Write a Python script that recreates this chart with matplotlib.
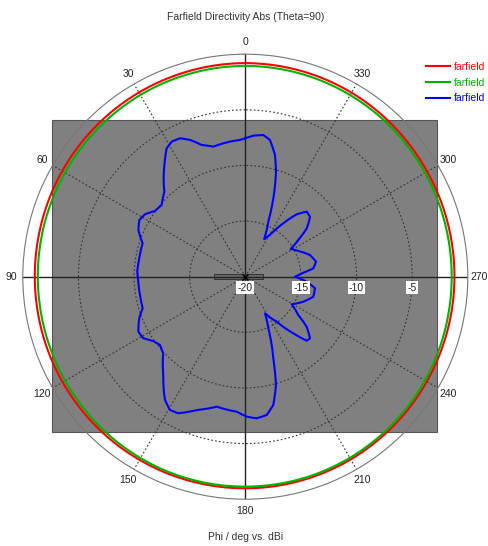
import numpy as np
import matplotlib
matplotlib.use("Agg")
import matplotlib.pyplot as plt
from matplotlib.patches import Rectangle
from matplotlib.lines import Line2D
from matplotlib.transforms import ScaledTranslation

plt.rcParams['font.family'] = ['Liberation Sans', 'DejaVu Sans']

title = "Farfield Directivity Abs (Theta=90)"
xlabel = "Phi / deg vs. dBi"
series_labels = ["farfield", "farfield", "farfield"]
series_colors = ["#ff0000", "#00b400", "#0000ff"]

theta_ticks = list(range(0, 360, 30))
theta_labels = [str(t) for t in theta_ticks]
r_ticks = [-20, -15, -10, -5]
r_min, r_max = -20, 0

# red / green curves: phi every 10 deg
phi_rg = list(range(0, 360, 10))
red_db = [-0.80, -0.82, -0.85, -0.88, -0.92, -0.96, -1.00, -1.04, -1.07, -1.08,
          -1.08, -1.06, -1.04, -1.02, -1.00, -0.99, -0.98, -0.98, -0.98, -0.99,
          -1.01, -1.04, -1.08, -1.12, -1.16, -1.19, -1.20, -1.20, -1.19, -1.16,
          -1.12, -1.05, -0.97, -0.90, -0.85, -0.82]
green_db = [-1.05, -1.07, -1.10, -1.14, -1.19, -1.24, -1.28, -1.32, -1.34, -1.35,
            -1.35, -1.33, -1.30, -1.26, -1.21, -1.17, -1.14, -1.13, -1.13, -1.14,
            -1.16, -1.20, -1.25, -1.30, -1.35, -1.40, -1.44, -1.45, -1.44, -1.40,
            -1.34, -1.27, -1.20, -1.15, -1.10, -1.07]

# blue curve
phi_blue = [0.0, 2.2, 6.5, 13.8, 18.3, 22.0, 25.3, 28.6, 31.5, 35.9, 43.6, 49.4, 54.0,
            58.1, 61.9, 66.4, 72.0, 80.2, 87.3, 91.8, 99.9, 107.1, 111.4, 117.2, 121.1,
            124.9, 128.7, 133.0, 140.2, 146.9, 150.5, 153.9, 160.0, 167.6, 176.4, 180.6,
            184.6, 188.8, 192.3, 195.8, 198.9, 204.0, 208.3, 214.9, 220.3, 223.8, 226.4,
            230.8, 234.1, 239.3, 246.7, 253.6, 260.6, 265.3, 270.0, 273.4, 277.0, 282.0,
            288.5, 295.9, 301.4, 304.7, 308.2, 312.8, 316.6, 320.5, 324.6, 329.4, 333.3,
            337.3, 340.3, 343.7, 346.3, 349.8, 352.8, 356.8, 360.0]
blue_db = [-7.56, -7.70, -7.78, -7.96, -7.53, -6.74, -6.24, -6.18, -6.47, -7.60, -9.45,
           -10.10, -9.96, -9.38, -9.20, -9.51, -10.30, -10.33, -10.28, -10.37, -10.39,
           -10.35, -9.76, -9.19, -9.29, -9.91, -10.18, -9.91, -8.49, -6.78, -6.24, -6.33,
           -7.25, -8.04, -7.84, -7.42, -7.23, -7.42, -8.20, -9.88, -12.24, -14.92, -16.26,
           -15.07, -13.33, -12.03, -11.97, -12.88, -14.12, -15.15, -14.32, -13.63, -13.65,
           -14.46, -15.53, -14.92, -13.84, -13.50, -13.87, -14.71, -15.22, -14.20, -12.97,
           -12.07, -11.96, -12.73, -14.11, -15.64, -16.21, -14.64, -12.52, -10.17, -8.74,
           -7.51, -7.16, -7.31, -7.56]

W, H = 488, 546
fig = plt.figure(figsize=(W / 100, H / 100), dpi=100)
fig.patch.set_facecolor('white')

cx, cy, R = 245.3, 276.7, 222.5
ax = fig.add_axes([(cx - R) / W, (H - cy - R) / H, 2 * R / W, 2 * R / H], projection='polar')
ax.set_facecolor('none')
ax.set_theta_zero_location('N')
ax.set_theta_direction(1)
ax.set_ylim(r_min, r_max)

# background structure picture (gray rectangle)
rect = Rectangle((52 / W, (H - 432) / H), (437 - 52) / W, (432 - 120) / H,
                 transform=fig.transFigure, facecolor='#808080', edgecolor='#555555',
                 linewidth=0.8, zorder=-1)
fig.add_artist(rect)
# small dipole model at center
dip = Rectangle((214 / W, (H - 278.5) / H), (263 - 214) / W, 4.5 / H,
                transform=fig.transFigure, facecolor='#6a6a6a', edgecolor='#333333',
                linewidth=0.7, zorder=-0.5)
fig.add_artist(dip)

ax.set_thetagrids(theta_ticks, theta_labels)
ax.tick_params(axis='x', pad=-2, labelsize=7.5, colors='#222222')
ax.set_rgrids([-15, -10, -5], labels=[''] * 3)
ax.tick_params(axis='y', length=0)
for gl, t in zip(ax.xaxis.get_gridlines(), theta_ticks):
    if t % 90 == 0:
        gl.set_linestyle('-')
        gl.set_color('#222222')
        gl.set_linewidth(1.0)
    else:
        gl.set_linestyle((0, (1.5, 2)))
        gl.set_color('#333333')
        gl.set_linewidth(0.8)
for gl in ax.yaxis.get_gridlines():
    gl.set_linestyle((0, (1.5, 2)))
    gl.set_color('#333333')
    gl.set_linewidth(0.8)
ax.spines['polar'].set_color('#777777')
ax.spines['polar'].set_linewidth(0.8)

def closed(p, v):
    return np.deg2rad(list(p) + [p[0] + 360]), list(v) + [v[0]]

lines = []
t, r = closed(phi_rg, red_db)
lines += ax.plot(t, r, color=series_colors[0], lw=1.5, label=series_labels[0])
t, r = closed(phi_rg, green_db)
lines += ax.plot(t, r, color=series_colors[1], lw=1.5, label=series_labels[1])
lines += ax.plot(np.deg2rad(phi_blue), blue_db, color=series_colors[2], lw=1.5,
                 label=series_labels[2])
for ln in lines:
    ln.get_path()._interpolation_steps = 12

# center marker
ax.plot([0], [r_min], marker='x', color='black', ms=4, mew=1)

# radial labels along 270 deg
off = ScaledTranslation(0, -11 / 100, fig.dpi_scale_trans)
for rv in r_ticks:
    ax.text(np.deg2rad(270), rv, str(rv), transform=ax.transData + off,
            ha='center', va='center', fontsize=7.5, color='#222222',
            bbox=dict(facecolor='white', edgecolor='none', pad=1.0))

fig.text(cx / W, 1 - 17 / H, title, ha='center', va='center', fontsize=7.5, color='#333333')
fig.text(cx / W, 1 - 536.7 / H, xlabel, ha='center', va='center', fontsize=7.5, color='#333333')

handles = [Line2D([], [], color=c, lw=1.5) for c in series_colors]
leg = fig.legend(handles, series_labels, loc='upper left',
                 bbox_to_anchor=(426 / W, 1 - 62 / H), frameon=False, fontsize=7.5,
                 handlelength=2.3, handletextpad=0.4, labelspacing=0.55, borderpad=0,
                 borderaxespad=0)
for txt, c in zip(leg.get_texts(), series_colors):
    txt.set_color(c)

fig.savefig('out.png', dpi=100)
